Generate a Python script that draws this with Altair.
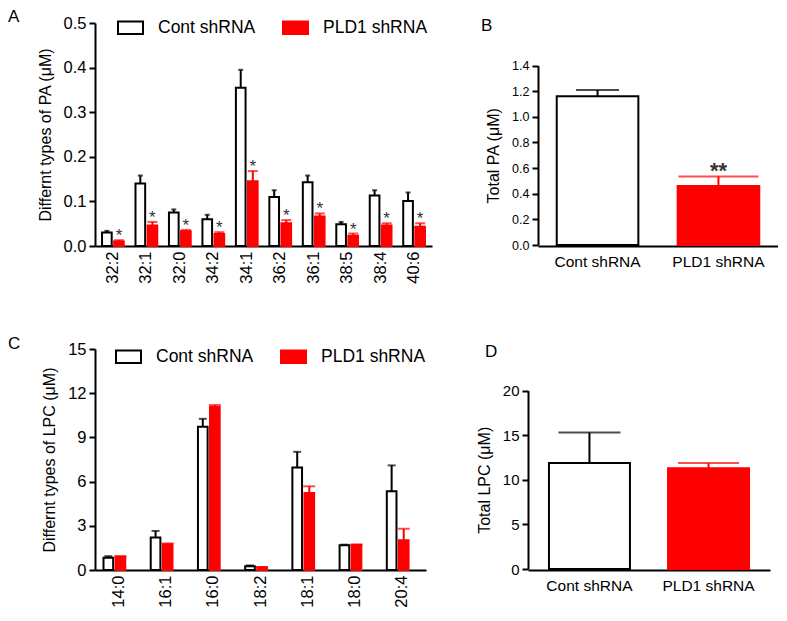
import altair as alt
import pandas as pd

FONT = "Liberation Sans"
SERIES = ["Cont shRNA", "PLD1 shRNA"]
COLORS = ["white", "#ff0000"]
STROKES = ["black", "#ff0000"]

# Panel A: species of PA
pa_species = ["32:2", "32:1", "32:0", "34:2", "34:1", "36:2", "36:1", "38:5", "38:4", "40:6"]
pa_cont = [0.030, 0.140, 0.075, 0.060, 0.355, 0.110, 0.143, 0.049, 0.113, 0.101]
pa_cont_err = [0.034, 0.158, 0.082, 0.070, 0.395, 0.125, 0.158, 0.054, 0.125, 0.120]
pa_pld = [0.010, 0.046, 0.033, 0.027, 0.145, 0.051, 0.066, 0.023, 0.046, 0.043]
pa_pld_err = [0.013, 0.054, 0.036, 0.031, 0.168, 0.058, 0.073, 0.028, 0.051, 0.051]
pa_pld_stars = ["*"] * 10

# Panel B: total PA
pa_total = [1.16, 0.46]
pa_total_err = [1.21, 0.535]
pa_total_stars = ["", "**"]

# Panel C: species of LPC
lpc_species = ["14:0", "16:1", "16:0", "18:2", "18:1", "18:0", "20:4"]
lpc_cont = [0.83, 2.20, 9.72, 0.25, 6.96, 1.68, 5.34]
lpc_cont_err = [0.94, 2.65, 10.26, 0.31, 8.02, 1.72, 7.10]
lpc_pld = [0.90, 1.75, 11.07, 0.18, 5.23, 1.70, 2.02]
lpc_pld_err = [0.94, 1.80, 11.20, 0.20, 5.68, 1.74, 2.80]
lpc_pld_stars = [""] * 7

# Panel D: total LPC
lpc_total = [11.87, 11.30]
lpc_total_err = [15.30, 11.87]
lpc_total_stars = ["", ""]


def grouped_frame(cats, c, ce, p, pe, stars):
    rows = []
    for i, cat in enumerate(cats):
        rows.append({"cat": cat, "series": SERIES[0], "value": c[i], "err": ce[i], "star": ""})
        rows.append({"cat": cat, "series": SERIES[1], "value": p[i], "err": pe[i], "star": stars[i]})
    return pd.DataFrame(rows)


def total_frame(v, e, s):
    return pd.DataFrame({"series": SERIES, "value": v, "err": e, "star": s})


is_cont = alt.datum.series == SERIES[0]


def y_axis(values, fmt, title, label_size, title_size):
    return alt.Axis(values=values, tickCount=len(values) + 2, format=fmt, title=title,
                    labelFontSize=label_size, titleFontSize=title_size, titlePadding=10,
                    tickSize=6, labelPadding=3, labelOverlap=False)


def panel_title(letter, dx):
    return alt.TitleParams(letter, anchor="start", frame="group", dx=dx, fontSize=17,
                           font=FONT, fontWeight="normal", offset=-12)


def grouped_panel(df, cats, ymax, yvals, fmt, ytitle, width, height, pi, po, opi,
                  cap_c, cap_p, letter, dx, lx, ly, star_size):
    legend = alt.Legend(title=None, orient="none", legendX=lx, legendY=ly, direction="horizontal",
                        symbolType="M-1,-0.5H1V0.5H-1Z", symbolSize=625, symbolStrokeWidth=2,
                        labelFontSize=17.5, labelFont=FONT, labelColor="black", labelOffset=14,
                        columnPadding=23, labelLimit=0, padding=0)
    base = alt.Chart(df).encode(
        x=alt.X("cat:N", sort=cats, scale=alt.Scale(paddingInner=pi, paddingOuter=po),
                axis=alt.Axis(title=None, labelAngle=270, ticks=False, labelFontSize=16.5,
                              labelPadding=5, labelOverlap=False)),
        xOffset=alt.XOffset("series:N", sort=SERIES, scale=alt.Scale(paddingInner=opi)),
    )
    yscale = alt.Scale(domain=[0, ymax], nice=False)
    bars = base.mark_bar(strokeWidth=2).encode(
        y=alt.Y("value:Q", scale=yscale, axis=y_axis(yvals, fmt, ytitle, 16.5, 16)),
        fill=alt.Fill("series:N", sort=SERIES, scale=alt.Scale(domain=SERIES, range=COLORS), legend=legend),
        stroke=alt.Stroke("series:N", sort=SERIES, scale=alt.Scale(domain=SERIES, range=STROKES), legend=legend),
    )
    rules = base.mark_rule(strokeWidth=2).encode(
        y="value:Q", y2="err:Q",
        color=alt.condition(is_cont, alt.value("black"), alt.value("#ff0000")),
    )
    caps = base.mark_tick(thickness=2).encode(
        y="err:Q",
        color=alt.condition(is_cont, alt.value("black"), alt.value("#ff0000")),
        size=alt.condition(is_cont, alt.value(cap_c), alt.value(cap_p)),
    )
    stars = base.mark_text(fontSize=star_size, font=FONT, color="#333333", baseline="alphabetic", dy=1).encode(
        y="err:Q", text="star:N",
    )
    return alt.layer(bars, rules, caps, stars).properties(
        width=width, height=height, title=panel_title(letter, dx),
    )


def total_panel(df, ymax, yvals, fmt, ytitle, width, height, yrange, pi, po,
                cap_c, cap_p, letter, dx, tick_size):
    base = alt.Chart(df).encode(
        x=alt.X("series:N", sort=SERIES, scale=alt.Scale(paddingInner=pi, paddingOuter=po),
                axis=alt.Axis(title=None, labelAngle=0, ticks=False, labelFontSize=15.5,
                              labelPadding=8, labelOverlap=False)),
    )
    yscale = alt.Scale(domain=[0, ymax], nice=False, range=yrange)
    bars = base.mark_bar(strokeWidth=2).encode(
        y=alt.Y("value:Q", scale=yscale, axis=y_axis(yvals, fmt, ytitle, tick_size, 16)),
        fill=alt.Fill("series:N", sort=SERIES, scale=alt.Scale(domain=SERIES, range=COLORS), legend=None),
        stroke=alt.Stroke("series:N", sort=SERIES, scale=alt.Scale(domain=SERIES, range=STROKES), legend=None),
    )
    rules = base.mark_rule(strokeWidth=2).encode(
        y="value:Q", y2="err:Q",
        color=alt.condition(is_cont, alt.value("black"), alt.value("#ff0000")),
    )
    caps = base.mark_tick(thickness=2).encode(
        y="err:Q",
        color=alt.condition(is_cont, alt.value("black"), alt.value("#ff0000")),
        size=alt.condition(is_cont, alt.value(cap_c), alt.value(cap_p)),
    )
    stars = base.mark_text(fontSize=22, font=FONT, fontWeight="bold", color="#333333",
                           baseline="alphabetic", dy=2).encode(
        y="err:Q", text="star:N",
    )
    return alt.layer(bars, rules, caps, stars).properties(
        width=width, height=height, title=panel_title(letter, dx),
    )


A = grouped_panel(grouped_frame(pa_species, pa_cont, pa_cont_err, pa_pld, pa_pld_err, pa_pld_stars),
                  pa_species, 0.5, [0, 0.1, 0.2, 0.3, 0.4, 0.5], ".1f", "Differnt types of PA (μM)",
                  337, 223, 0.35, 0.21, 0.2, 5, 10, "A", -87, 22, -9, 17)
B = total_panel(total_frame(pa_total, pa_total_err, pa_total_stars), 1.4,
                [0, 0.2, 0.4, 0.6, 0.8, 1.0, 1.2, 1.4], ".1f", "Total PA (μM)",
                240, 223, [222, 42.6], 0.325, 0.155, 43, 80, "B", -57, 12.5)
C = grouped_panel(grouped_frame(lpc_species, lpc_cont, lpc_cont_err, lpc_pld, lpc_pld_err, lpc_pld_stars),
                  lpc_species, 15, [0, 3, 6, 9, 12, 15], "d", "Differnt types of LPC (μM)",
                  331, 221, 0.35, 0.18, 0.3, 8, 12, "C", -87, 20, -6, 17)
D = total_panel(total_frame(lpc_total, lpc_total_err, lpc_total_stars), 20,
                [0, 5, 10, 15, 20], "d", "Total LPC (μM)",
                242, 221, [220, 41.6], 0.32, 0.176, 62, 61, "D", -43, 15)

row1 = alt.hconcat(A, B, spacing=106, bounds="flush").resolve_scale(fill="independent", stroke="independent")
row2 = alt.hconcat(C, D, spacing=102, bounds="flush").resolve_scale(fill="independent", stroke="independent")
chart = alt.vconcat(row1, row2, spacing=51).resolve_scale(
    fill="independent", stroke="independent"
).properties(
    padding=0
).configure_view(stroke=None).configure_axis(
    labelFont=FONT, titleFont=FONT, labelColor="black", titleColor="black",
    titleFontWeight="normal", domainColor="black", domainWidth=2, tickColor="black",
    tickWidth=2, grid=False,
)

chart.save("out.html", embed_options={"renderer": "svg", "actions": False})
